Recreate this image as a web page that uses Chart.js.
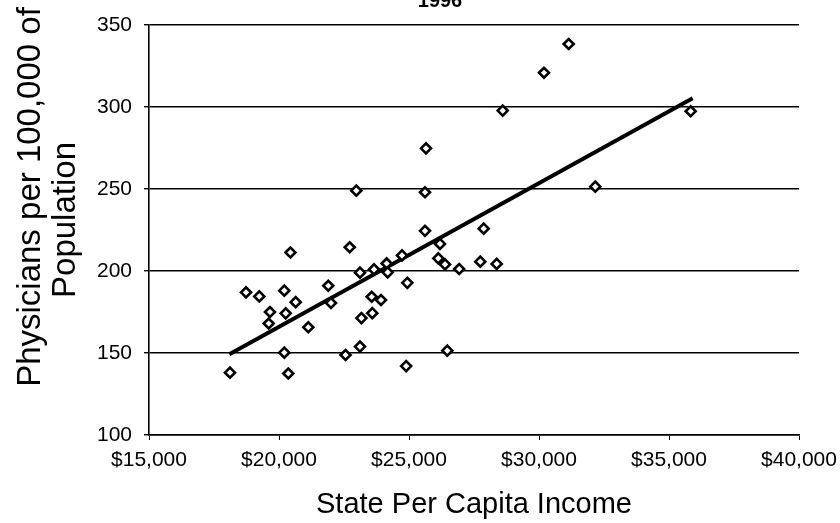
<!DOCTYPE html>
<html>
<head>
<meta charset="utf-8">
<script src="https://cdn.jsdelivr.net/npm/chart.js@4/dist/chart.umd.min.js"></script>
<style>
  html, body { margin: 0; padding: 0; background: #ffffff; }
  #wrap { width: 840px; height: 523px; }
</style>
</head>
<body>
<div id="wrap"><canvas id="c" width="840" height="523"></canvas></div>
<script>
// Scatter data (state per capita income vs physicians per 100,000)
const incomes = [18115, 18731, 19242, 20204, 20642, 19654, 20258, 19604, 21127, 21896,
                 22000, 20204, 20358, 20440, 22720, 22973, 23115, 23654, 24140, 24180,
                 24731, 24935, 23565, 23923, 23588, 23170, 22560, 23115, 24890, 26473,
                 26192, 26127, 26385, 26930, 27743, 28373, 25615, 27873, 25615, 25654,
                 28604, 30192, 31142, 32165, 35834];
const physicians = [138, 187, 184.5, 188, 181, 175, 174.2, 168, 165.7, 191,
                    180.5, 150.2, 137.5, 211.3, 214.5, 249, 199, 201, 204.6, 199.2,
                    209.5, 192.8, 184.3, 182.3, 174.3, 171.3, 148.8, 153.9, 142, 151.4,
                    216.5, 207.7, 204, 201.2, 205.7, 204.3, 224.5, 225.8, 248, 274.8,
                    297.8, 320.9, 338.4, 251.4, 297.4];
// Linear trend line end points
const trendX = [18090, 35910];
const trendY = [149.2, 305.3];
// Axis ticks
const xTicks = [15000, 20000, 25000, 30000, 35000, 40000];
const yTicks = [100, 150, 200, 250, 300, 350];
const titleText = '1996';
const xTitle = 'State Per Capita Income';
const yTitle = ['Physicians per 100,000 of', 'Population'];

const FONT = '"Liberation Sans", Arial, Helvetica, sans-serif';

const scatterPts = incomes.map((x, i) => ({ x: x, y: physicians[i] }));
const trendPts = trendX.map((x, i) => ({ x: x, y: trendY[i] }));

// Chart title (cut off at the top edge, as in the reference) and the two-line y-axis title
const extraText = {
  id: 'extraText',
  afterDraw(chart) {
    const ctx = chart.ctx;
    ctx.save();
    ctx.font = 'bold 20px ' + FONT;
    ctx.fillStyle = '#000';
    ctx.textAlign = 'center';
    ctx.textBaseline = 'alphabetic';
    ctx.fillText(titleText, 440, 7);
    ctx.restore();

    const lines = [{ t: yTitle[0], x: 31, y: 197 }, { t: yTitle[1], x: 66, y: 220 }];
    lines.forEach(l => {
      ctx.save();
      ctx.font = '33px ' + FONT;
      ctx.fillStyle = '#000';
      ctx.textAlign = 'center';
      ctx.textBaseline = 'middle';
      ctx.translate(l.x, l.y);
      ctx.rotate(-Math.PI / 2);
      ctx.fillText(l.t, 0, 0);
      ctx.restore();
    });
  }
};

new Chart(document.getElementById('c'), {
  type: 'scatter',
  data: {
    datasets: [
      {
        type: 'line',
        data: trendPts,
        borderColor: '#000',
        borderWidth: 4,
        pointRadius: 0,
        fill: false,
        tension: 0,
        order: 2
      },
      {
        data: scatterPts,
        pointStyle: 'rectRot',
        pointRadius: 5,
        pointBorderWidth: 2.6,
        pointBackgroundColor: '#fff',
        pointBorderColor: '#000',
        borderColor: '#000',
        backgroundColor: '#fff',
        order: 1
      }
    ]
  },
  plugins: [extraText],
  options: {
    responsive: false,
    animation: false,
    events: [],
    layout: { padding: { top: 25, right: 41, left: 0, bottom: 0 } },
    plugins: { legend: { display: false }, tooltip: { enabled: false } },
    scales: {
      x: {
        type: 'linear',
        min: 15000, max: 40000,
        afterBuildTicks(scale) { scale.ticks = xTicks.map(v => ({ value: v })); },
        afterFit(scale) { scale.height = 88; scale.paddingLeft = 0; scale.paddingRight = 0; },
        ticks: {
          color: '#000',
          font: { family: FONT, size: 21 },
          padding: 8,
          maxRotation: 0,
          autoSkip: false,
          callback: v => '$' + Number(v).toLocaleString('en-US')
        },
        grid: { drawOnChartArea: false, drawTicks: true, tickLength: 5, color: '#000', lineWidth: 1 },
        border: { display: true, color: '#000', width: 1.6 },
        title: {
          display: true, text: xTitle, color: '#000',
          font: { family: FONT, size: 29 }, padding: { top: 0, bottom: 1 }
        }
      },
      y: {
        type: 'linear',
        min: 100, max: 350,
        afterBuildTicks(scale) { scale.ticks = yTicks.map(v => ({ value: v })); },
        afterFit(scale) { scale.width = 149; scale.paddingTop = 0; scale.paddingBottom = 0; },
        ticks: {
          color: '#000',
          font: { family: FONT, size: 21 },
          padding: 12
        },
        grid: { drawOnChartArea: true, drawTicks: true, tickLength: 5, color: '#000', lineWidth: 1.4 },
        border: { display: true, color: '#000', width: 1.6 },
        title: { display: false }
      }
    }
  }
});
</script>
</body>
</html>
